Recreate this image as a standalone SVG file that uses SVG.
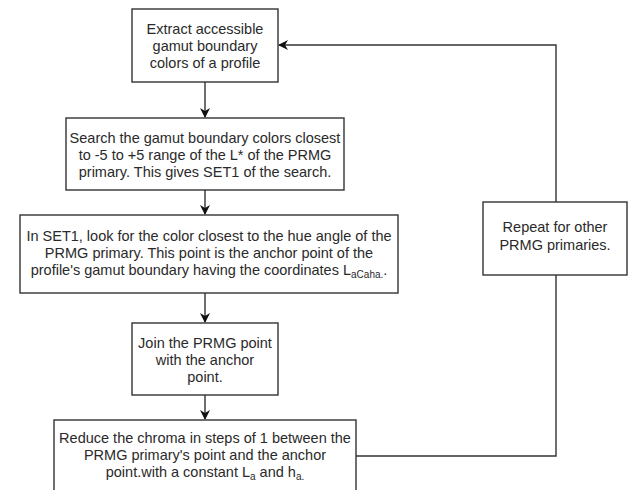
<svg xmlns="http://www.w3.org/2000/svg" width="628" height="490" viewBox="0 0 628 490">
<style>
.box{fill:#fff;stroke:#333;stroke-width:1.4}
.t{font-family:"Liberation Sans",Arial,sans-serif;font-size:14.5px;fill:#2a2a2a;text-anchor:middle}
.c{fill:none;stroke:#333;stroke-width:1.4}
.s{font-size:10px}
</style>
<defs>
<marker id="ah" viewBox="0 0 10 10" refX="9" refY="5" markerWidth="10" markerHeight="10" markerUnits="userSpaceOnUse" orient="auto">
<path d="M0,0 L10,5 L0,10 L3,5 Z" fill="#111"/>
</marker>
</defs>
<rect width="628" height="490" fill="#fff"/>
<g id="connectors">
<line class="c" x1="205" y1="82" x2="205" y2="117" marker-end="url(#ah)"/>
<line class="c" x1="205" y1="190" x2="205" y2="214" marker-end="url(#ah)"/>
<line class="c" x1="205" y1="293" x2="205" y2="322" marker-end="url(#ah)"/>
<line class="c" x1="205" y1="395" x2="205" y2="419" marker-end="url(#ah)"/>
<polyline class="c" points="356,456 556,456 556,275"/>
<polyline class="c" points="556,202 556,45 279,45" marker-end="url(#ah)"/>
</g>
<g id="n1">
<rect class="box" x="132" y="9" width="146" height="73"/>
<text class="t" x="205" y="34">Extract accessible</text>
<text class="t" x="205" y="51">gamut boundary</text>
<text class="t" x="205" y="68">colors of a profile</text>
</g>
<g id="n2">
<rect class="box" x="66" y="118" width="278" height="72"/>
<text class="t" x="205" y="143">Search the gamut boundary colors closest</text>
<text class="t" x="205" y="160">to -5 to +5 range of the L* of the PRMG</text>
<text class="t" x="205" y="177">primary. This gives SET1 of the search.</text>
</g>
<g id="n3">
<rect class="box" x="20" y="215" width="378" height="78"/>
<text class="t" x="209" y="241">In SET1, look for the color closest to the hue angle of the</text>
<text class="t" x="209" y="258">PRMG primary. This point is the anchor point of the</text>
<text class="t" x="209" y="275">profile's gamut boundary having the coordinates L<tspan class="s" dy="3">aCaha.</tspan><tspan dy="-3">.</tspan></text>
</g>
<g id="n4">
<rect class="box" x="132" y="323" width="146" height="72"/>
<text class="t" x="205" y="348">Join the PRMG point</text>
<text class="t" x="205" y="365">with the anchor</text>
<text class="t" x="205" y="382">point.</text>
</g>
<g id="n5">
<rect class="box" x="54" y="420" width="302" height="80"/>
<text class="t" x="205" y="443">Reduce the chroma in steps of 1 between the</text>
<text class="t" x="205" y="460">PRMG primary's point and the anchor</text>
<text class="t" x="205" y="477">point.with a constant L<tspan class="s" dy="3">a</tspan><tspan dy="-3"> and h</tspan><tspan class="s" dy="3">a.</tspan></text>
</g>
<g id="n6">
<rect class="box" x="483" y="202" width="144" height="73"/>
<text class="t" x="555" y="232">Repeat for other</text>
<text class="t" x="555" y="250">PRMG primaries.</text>
</g>
</svg>
